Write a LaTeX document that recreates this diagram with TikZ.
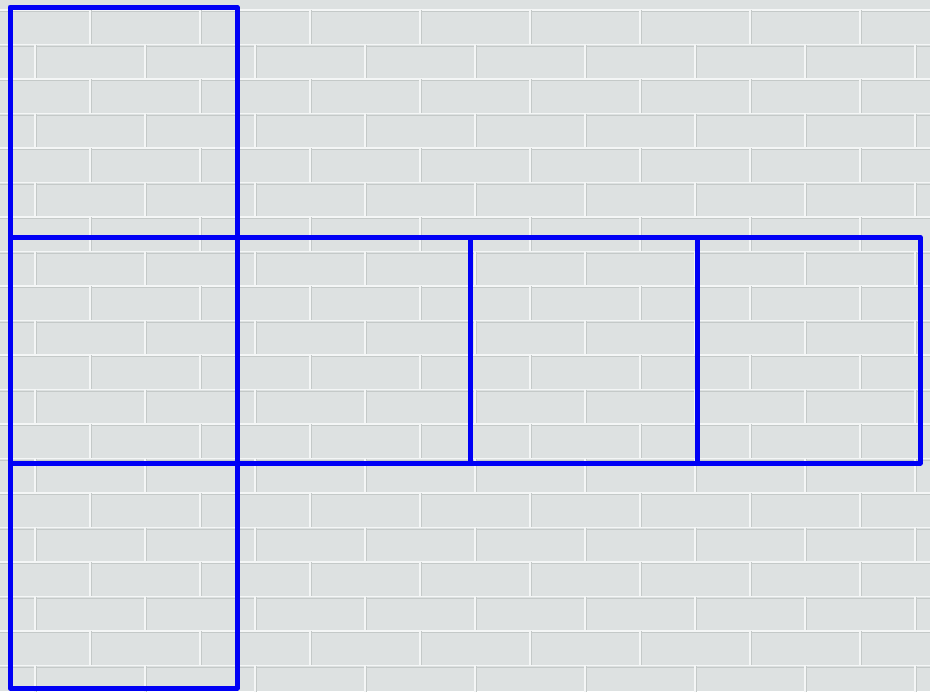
\documentclass[tikz,border=0pt]{standalone}
\usepackage{tikz}
\usepackage{xcolor}
\usetikzlibrary{positioning}
\definecolor{wallgray}{RGB}{221,225,225}
\definecolor{mortar}{RGB}{244,246,246}
\definecolor{brickshade}{RGB}{196,201,200}
\definecolor{netblue}{RGB}{0,0,245}

\begin{document}
\begin{tikzpicture}[x=0.03cm,y=-0.03cm,
		face/.style={draw=netblue,line width=0.15cm,line join=round,line cap=round}]
		\useasboundingbox (0,0) rectangle (930,691);
		\fill[wallgray] (0,0) rectangle (930,691);
		% brick wall behind the net
		\foreach \r [evaluate=\r as \yy using 10+34.5*\r,
			evaluate=\r as \off using {mod(\r,2)*55-20}] in {0,...,19} {
			\draw[brickshade,line width=0.6pt] (0,\yy+1.5) -- (930,\yy+1.5);
			\draw[mortar,line width=0.9pt] (0,\yy) -- (930,\yy);
			\foreach \k in {0,...,9} {
				\draw[brickshade,line width=0.6pt] (\off+110*\k+1.5,\yy) -- ++(0,34.5);
				\draw[mortar,line width=0.9pt] (\off+110*\k,\yy) -- ++(0,34.5);
			}
		}
		% the six faces
		\draw[face] (10,7) rectangle (237,237);
		\draw[face] (10,237) rectangle (237,463);
		\draw[face] (237,237) rectangle (470,463);
		\draw[face] (470,237) rectangle (697,463);
		\draw[face] (697,237) rectangle (920,463);
		\draw[face] (10,463) rectangle (237,688);
	\end{tikzpicture}
\end{document}
